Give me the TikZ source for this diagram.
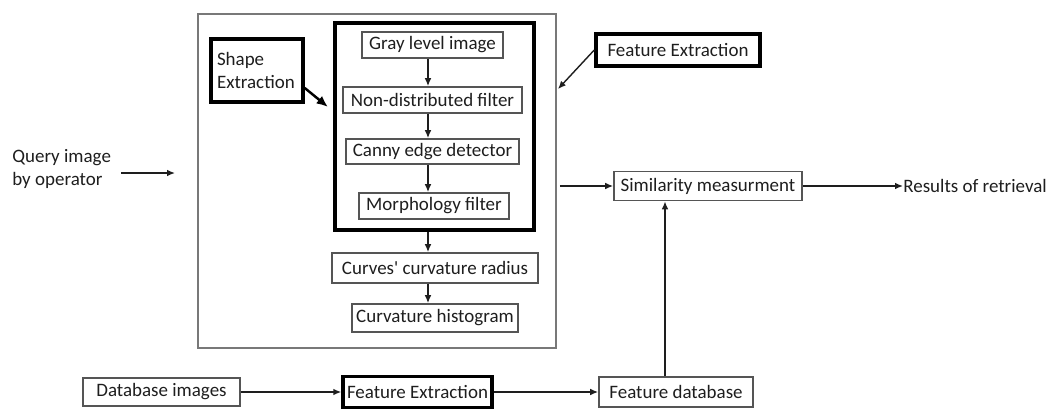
\documentclass[tikz,border=0pt]{standalone}
\usepackage{fontspec}
\setmainfont{Carlito}
\usepackage{tikz}
\usetikzlibrary{
  arrows.meta,
  positioning
}
\definecolor{ink}{RGB}{30,30,30}
\definecolor{frameline}{RGB}{85,85,85}
\definecolor{outline}{RGB}{120,120,120}
\newcommand{\txt}{\fontsize{10.8}{13}\selectfont}

\begin{document}
\begin{tikzpicture}[x=0.02cm, y=-0.02cm,
            box/.style={rectangle, draw=frameline, line width=1pt, text=ink, font=\txt, inner sep=0pt, align=center},
            boldbox/.style={box, draw=black, line width=2pt},
            lbl/.style={text=ink, font=\txt, inner sep=0pt},
            arr/.style={draw=ink, line width=0.8pt, -{Latex[length=4.5pt, width=3.8pt]}},
            boldarr/.style={draw=black, line width=1.4pt, -{Latex[length=6.5pt, width=5.5pt]}}]
            \useasboundingbox (0,0) rectangle (1056,410);
            % query side
            \node [box, draw=outline, minimum width=7.16cm, minimum height=6.68cm] (frame) at (377,181) {};
            \node [boldbox, minimum width=3.98cm, minimum height=4.14cm] (shapeblock) at (434.5,126.5) {};
            \node [boldbox, minimum width=1.84cm, minimum height=1.26cm, text width=1.6cm, align=left] (shape) at (257,70.5) {Shape\\Extraction};
            \node [box, minimum width=2.82cm, minimum height=0.52cm] (gray) at (432.5,45) {Gray level image};
            \node [box, minimum width=3.58cm, minimum height=0.52cm] (nondist) at (432.5,100) {Non-distributed filter};
            \node [box, minimum width=3.46cm, minimum height=0.5cm] (canny) at (432.5,151.5) {Canny edge detector};
            \node [box, minimum width=3.0cm, minimum height=0.52cm] (morph) at (434,206) {Morphology filter};
            \node [box, minimum width=4.12cm, minimum height=0.6cm] (radius) at (435,268) {Curves\textquotesingle{} curvature radius};
            \node [box, minimum width=3.32cm, minimum height=0.56cm] (hist) at (435,318) {Curvature histogram};
            \node [lbl, align=left, anchor=west] (query) at (12,169) {Query image\\by operator};
            \node [boldbox, minimum width=3.28cm, minimum height=0.64cm] (topfe) at (678,50) {Feature Extraction};
            \node [box, minimum width=3.76cm, minimum height=0.58cm] (sim) at (708,186) {Similarity measurment};
            \node [lbl, anchor=west] (results) at (903,186) {Results of retrieval};
            % database side
            \node [box, minimum width=3.14cm, minimum height=0.56cm] (dbimg) at (161.5,392) {Database images};
            \node [boldbox, minimum width=2.98cm, minimum height=0.62cm] (botfe) at (417.5,392) {Feature Extraction};
            \node [box, minimum width=3.08cm, minimum height=0.6cm] (fdb) at (676,392) {Feature database};

            \coordinate (spine) at (428,0);
            \coordinate (upx) at (665,0);
            \coordinate (qend) at (175,173);
            \coordinate (shapeend) at (328,107);
            \coordinate (frameend) at (558,89);

            \path [arr, shorten <=0.2cm] (query.east |- qend) -- (qend);
            \path [boldarr] ([yshift=-0.35cm]shape.east) -- (shapeend);
            \path [arr] (gray.south -| spine) -- (nondist.north -| spine);
            \path [arr] (nondist.south -| spine) -- (canny.north -| spine);
            \path [arr] (canny.south -| spine) -- (morph.north -| spine);
            \path [arr] (shapeblock.south -| spine) -- (radius.north -| spine);
            \path [arr] (radius.south -| spine) -- (hist.north -| spine);
            \path [arr] (topfe.west) -- (frameend);
            \path [arr, shorten <=0.06cm] (frame.east |- sim) -- (sim.west);
            \path [arr] (sim.east) -- (results.west);
            \path [arr] (fdb.north -| upx) -- (sim.south -| upx);
            \path [arr] (dbimg.east) -- (botfe.west);
            \path [arr] (botfe.east) -- (fdb.west);
        \end{tikzpicture}
\end{document}
